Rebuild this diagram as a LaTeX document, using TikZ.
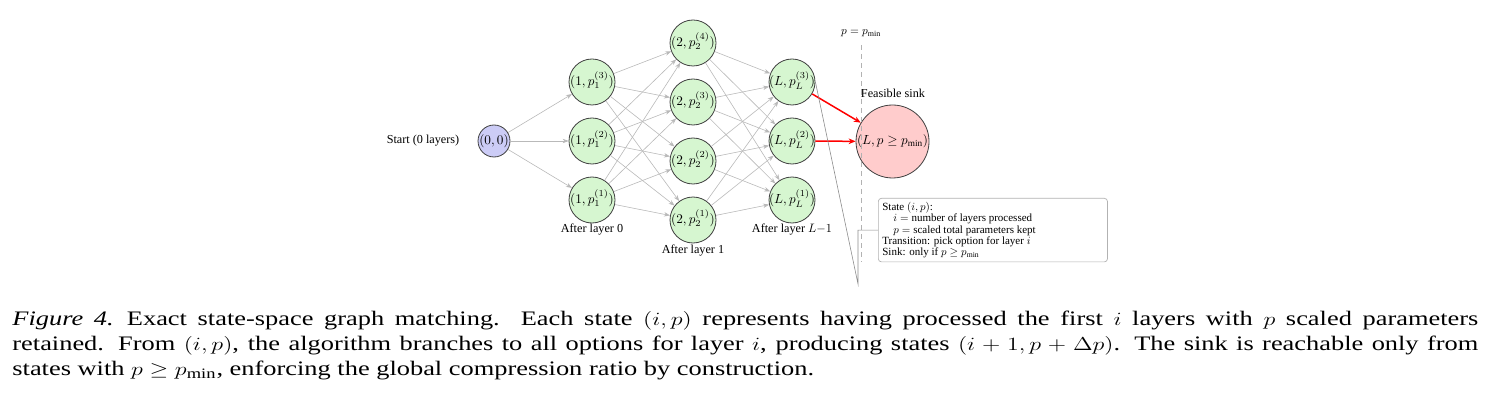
\documentclass[tikz,border=0pt]{standalone}
\usepackage{fontspec}
\setmainfont{Liberation Serif}
\usetikzlibrary{arrows.meta}
\definecolor{nodegreen}{RGB}{214,246,208}
\definecolor{startblue}{RGB}{204,204,246}
\definecolor{sinkred}{RGB}{255,204,204}
\definecolor{edgegray}{RGB}{185,185,185}
\newcommand{\ctext}[1]{\makebox[0pt]{\smash{\raisebox{-1.65pt}{\scalebox{0.66}{#1}}}}}
\newcommand{\lbltext}[1]{\scalebox{0.61}{#1}}
\begin{document}
\begin{tikzpicture}[x=0.5pt,y=-0.5pt,
  state/.style={circle, draw=black!75, line width=0.4pt, minimum size=23pt, inner sep=0pt, fill=nodegreen, font=\fontsize{10}{12}\selectfont},
  startnode/.style={state, minimum size=16pt, fill=startblue},
  sinknode/.style={state, minimum size=36.5pt, fill=sinkred},
  lbl/.style={inner sep=0pt, font=\fontsize{10}{12}\selectfont},
  edge/.style={draw=edgegray, line width=0.3pt, -{Stealth[length=3pt,width=2.2pt]}},
  redge/.style={draw=red, line width=0.75pt, -{Stealth[length=3.5pt,width=2.8pt]}},
  callout/.style={draw=black!45, line width=0.3pt},
  legendbox/.style={draw=black!30, line width=0.35pt, rounded corners=1.5pt, fill=white, inner sep=2pt, font=\fontsize{10}{10.2}\selectfont},
  captionbox/.style={inner sep=0pt, font=\fontsize{13.2}{16}\selectfont}
]
\path[use as bounding box] (0,0) rectangle (1491,411);

% nodes
\node[startnode] (s) at (494,141) {\ctext{$(0,0)$}};
\node[state] (a1) at (592,200) {\ctext{$(1,p_1^{(1)})$}};
\node[state] (a2) at (592,141) {\ctext{$(1,p_1^{(2)})$}};
\node[state] (a3) at (592,82) {\ctext{$(1,p_1^{(3)})$}};
\node[state] (b1) at (693,220) {\ctext{$(2,p_2^{(1)})$}};
\node[state] (b2) at (693,161) {\ctext{$(2,p_2^{(2)})$}};
\node[state] (b3) at (693,102) {\ctext{$(2,p_2^{(3)})$}};
\node[state] (b4) at (693,43) {\ctext{$(2,p_2^{(4)})$}};
\node[state] (c1) at (792,200) {\ctext{$(L,p_L^{(1)})$}};
\node[state] (c2) at (792,141) {\ctext{$(L,p_L^{(2)})$}};
\node[state] (c3) at (792,82) {\ctext{$(L,p_L^{(3)})$}};
\node[sinknode] (t) at (892.5,141.5) {\ctext{$(L,p\geq p_{\min})$}};

% labels
\node[lbl] (ls) at (423,141) {\lbltext{Start (0 layers)}};
\node[lbl] (l0) at (592,230) {\lbltext{After layer 0}};
\node[lbl] (l1) at (693,251) {\lbltext{After layer 1}};
\node[lbl] (lL) at (792,230) {\lbltext{After layer $L{-}1$}};
\node[lbl] (lt) at (893,93) {\lbltext{Feasible sink}};
\node[lbl] (lp) at (861,33) {\scalebox{0.57}{$p=p_{\min}$}};

% dashed threshold
\coordinate (d1) at (861,45);
\coordinate (d2) at (861,262);
\draw[draw=black!30, line width=0.4pt, dash pattern=on 2.5pt off 2pt] (d1) -- (d2);

% edges
\foreach \j in {a1,a2,a3} \draw[edge] (s) -- (\j);
\foreach \i in {a1,a2,a3} \foreach \j in {b1,b2,b3,b4} \draw[edge] (\i) -- (\j);
\foreach \i in {b1,b2,b3,b4} \foreach \j in {c1,c2,c3} \draw[edge] (\i) -- (\j);
\draw[redge] (c3) -- (t);
\draw[redge] (c2) -- (t);

% legend
\node[legendbox, anchor=north west] (leg) at (878,198) {\scalebox{0.55}{\parbox{201pt}{State $(i,p)$:\\
\hspace*{1em}$i=$ number of layers processed\\
\hspace*{1em}$p=$ scaled total parameters kept\\
Transition: pick option for layer $i$\\
Sink: only if $p\geq p_{\min}$}}};
\coordinate (cb) at (858,284);
\draw[callout] (c3.east) -- (cb) |- (leg.west);

% caption
\node[captionbox, anchor=north west] (cap) at (12,311) {\scalebox{1}[0.78]{\parbox{733pt}{\textit{Figure 4.}\hspace{0.5em}Exact state-space graph matching. Each state $(i,p)$ represents having processed the first $i$ layers with $p$ scaled parameters\linebreak retained. From $(i,p)$, the algorithm branches to all options for layer $i$, producing states $(i+1,p+\Delta p)$. The sink is reachable only from\linebreak states with $p\geq p_{\min}$, enforcing the global compression ratio by construction.}}};
\end{tikzpicture}
\end{document}
